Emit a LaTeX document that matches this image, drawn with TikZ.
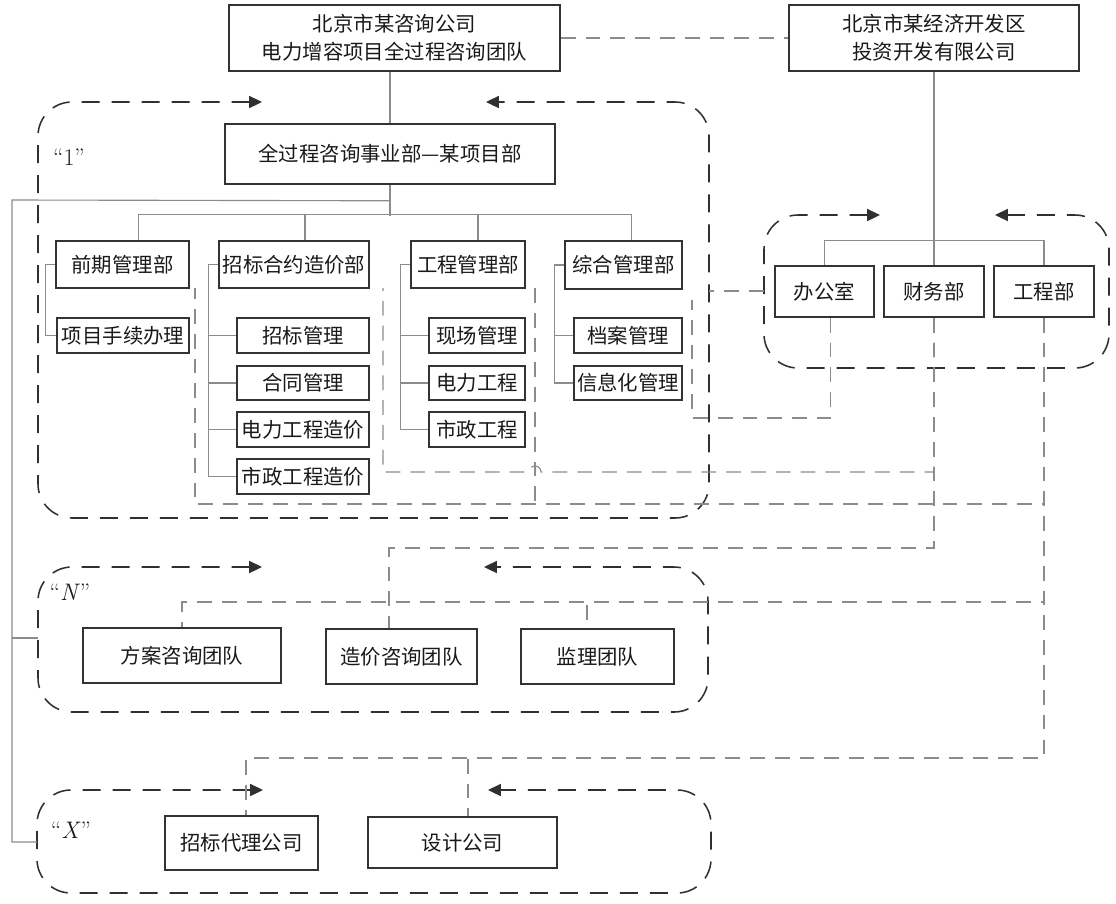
\documentclass[tikz,border=0pt]{standalone}
\usepackage{fontspec}
\newfontfamily\cjk{Noto Sans CJK SC}
\usetikzlibrary{arrows.meta}
\pgfdeclarelayer{edgelayer}
\pgfdeclarelayer{nodelayer}
\pgfsetlayers{edgelayer,nodelayer,main}
\definecolor{lineGray}{HTML}{8C8C8C}
\definecolor{frameGray}{HTML}{303030}
\tikzstyle{orgbox}=[draw=black!80, line width=1.1pt, fill=white, inner sep=0pt, align=center, text=black!90, font=\cjk\fontsize{14.5}{20}\selectfont]
\tikzstyle{orgline}=[draw=lineGray, line width=0.8pt]
\tikzstyle{relline}=[draw=lineGray, line width=0.8pt, dash pattern=on 0.37cm off 0.25cm]
\tikzstyle{teamframe}=[draw=frameGray, line width=1.1pt, dash pattern=on 0.45cm off 0.3cm, rounded corners=0.85cm, arrows={Triangle[length=0.32cm,width=0.3cm]-Triangle[length=0.32cm,width=0.3cm]}]
\tikzstyle{teamtag}=[font=\fontsize{17}{19}\selectfont, inner sep=0pt, text=black!90]

\begin{document}
\begin{tikzpicture}[x=0.025cm, y=-0.025cm]
	\useasboundingbox (0,0) rectangle (1116,903);
	\begin{pgfonlayer}{nodelayer}
		\node [style=orgbox, minimum width=8.275cm, minimum height=1.65cm] (0) at (394.5, 38) {北京市某咨询公司\\电力增容项目全过程咨询团队};
		\node [style=orgbox, minimum width=7.25cm, minimum height=1.65cm] (1) at (934, 38) {北京市某经济开发区\\投资开发有限公司};
		\node [style=orgbox, minimum width=8.25cm, minimum height=1.5cm] (2) at (390, 154) {全过程咨询事业部—某项目部};
		\node [style=orgbox, minimum width=3.325cm, minimum height=1.175cm] (3) at (122.5, 264.5) {前期管理部};
		\node [style=orgbox, minimum width=3.3cm, minimum height=0.875cm] (4) at (123, 335.5) {项目手续办理};
		\node [style=orgbox, minimum width=3.75cm, minimum height=1.175cm] (5) at (294, 264.5) {招标合约造价部};
		\node [style=orgbox, minimum width=3.3cm, minimum height=0.875cm] (6) at (303, 335.5) {招标管理};
		\node [style=orgbox, minimum width=3.3cm, minimum height=0.85cm] (7) at (303, 383) {合同管理};
		\node [style=orgbox, minimum width=3.3cm, minimum height=0.875cm] (8) at (303, 429.5) {电力工程造价};
		\node [style=orgbox, minimum width=3.3cm, minimum height=0.875cm] (9) at (303, 476.5) {市政工程造价};
		\node [style=orgbox, minimum width=2.85cm, minimum height=1.175cm] (10) at (468, 264.5) {工程管理部};
		\node [style=orgbox, minimum width=2.4cm, minimum height=0.875cm] (11) at (477, 335.5) {现场管理};
		\node [style=orgbox, minimum width=2.4cm, minimum height=0.85cm] (12) at (477, 383) {电力工程};
		\node [style=orgbox, minimum width=2.4cm, minimum height=0.875cm] (13) at (477, 429.5) {市政工程};
		\node [style=orgbox, minimum width=2.925cm, minimum height=1.2cm] (14) at (623.5, 265) {综合管理部};
		\node [style=orgbox, minimum width=2.7cm, minimum height=0.875cm] (15) at (628, 335.5) {档案管理};
		\node [style=orgbox, minimum width=2.7cm, minimum height=0.85cm] (16) at (628, 383) {信息化管理};
		\node [style=orgbox, minimum width=2.475cm, minimum height=1.275cm] (17) at (824.5, 291.5) {办公室};
		\node [style=orgbox, minimum width=2.5cm, minimum height=1.275cm] (18) at (934, 291.5) {财务部};
		\node [style=orgbox, minimum width=2.5cm, minimum height=1.275cm] (19) at (1044, 291.5) {工程部};
		\node [style=orgbox, minimum width=4.95cm, minimum height=1.375cm] (20) at (182, 655.5) {方案咨询团队};
		\node [style=orgbox, minimum width=3.775cm, minimum height=1.375cm] (21) at (401.5, 656.5) {造价咨询团队};
		\node [style=orgbox, minimum width=3.825cm, minimum height=1.375cm] (22) at (597.5, 656.5) {监理团队};
		\node [style=orgbox, minimum width=3.825cm, minimum height=1.35cm] (23) at (241.5, 843) {招标代理公司};
		\node [style=orgbox, minimum width=4.725cm, minimum height=1.275cm] (24) at (462.5, 842.5) {设计公司};
		\node [style=teamtag] (25) at (69, 157) {``1''};
		\node [style=teamtag] (26) at (70, 592) {``\textit{N}''};
		\node [style=teamtag] (27) at (71, 830) {``\textit{X}''};
	\end{pgfonlayer}
	\coordinate (s0) at (12, 200);
	\coordinate (n0) at (38, 638);
	\coordinate (x0) at (37, 842);
	\coordinate (a0) at (195, 288);
	\coordinate (a1) at (383, 288);
	\coordinate (a2) at (535, 288);
	\coordinate (a3) at (692, 300);
	\coordinate (d1) at (195, 504);
	\coordinate (d2) at (383, 472);
	\coordinate (c4) at (389, 548);
	\coordinate (c5) at (182, 602);
	\coordinate (c6) at (587, 602);
	\coordinate (c7) at (246, 758);
	\coordinate (c8) at (468, 758);
	\coordinate (c9) at (692, 418);
	\coordinate (e1) at (709, 291);
	\coordinate (e2) at (764, 291);
	\begin{pgfonlayer}{edgelayer}
		% team frames
		\draw [style=teamframe] (262, 102) -- (38, 102) -- (38, 518) -- (709, 518) -- (709, 102) -- (486, 102);
		\draw [style=teamframe] (880, 215) -- (764, 215) -- (764, 368) -- (1109, 368) -- (1109, 215) -- (995, 215);
		\draw [style=teamframe] (262, 567) -- (38, 567) -- (38, 712) -- (708, 712) -- (708, 567) -- (484, 567);
		\draw [style=teamframe] (263, 790) -- (37, 790) -- (37, 893) -- (711, 893) -- (711, 790) -- (488, 790);
		% organisation lines
		\draw [style=orgline] (0.south -| 2.north) -- (2.north);
		\draw [style=orgline] (1.south) -- (18.north);
		\draw [style=orgline] (17.north) -- ++(0, -25) -| (19.north);
		\draw [style=orgline] (2.south) -- ++(0, 31);
		\draw [style=orgline] ([xshift=0.39cm]3.north) -- ++(0, -26) -| ([xshift=0.21cm]14.north);
		\draw [style=orgline] ([xshift=0.275cm]5.north) -- ++(0, -26);
		\draw [style=orgline] ([xshift=0.25cm]10.north) -- ++(0, -26);
		\draw [style=orgline] (3.west) -- ++(-10, 0) |- (4.west);
		\draw [style=orgline] (5.west) -- ++(-10, 0) |- (6.west);
		\draw [style=orgline] (5.west) -- ++(-10, 0) |- (7.west);
		\draw [style=orgline] (5.west) -- ++(-10, 0) |- (8.west);
		\draw [style=orgline] (5.west) -- ++(-10, 0) |- (9.west);
		\draw [style=orgline] (10.west) -- ++(-10, 0) |- (11.west);
		\draw [style=orgline] (10.west) -- ++(-10, 0) |- (12.west);
		\draw [style=orgline] (10.west) -- ++(-10, 0) |- (13.west);
		\draw [style=orgline] (14.west) -- ++(-10, 0) |- (15.west);
		\draw [style=orgline] (14.west) -- ++(-10, 0) |- (16.west);
		\draw [style=orgline] ([yshift=-0.4cm]2.south) -- (s0) |- (x0);
		\draw [style=orgline] (s0 |- n0) -- (n0);
		% relation lines
		\draw [style=relline] (0.east) -- (1.west);
		\draw [style=relline] (e2) -- (e1);
		\draw [style=relline] ([xshift=0.16cm]17.south) |- (c9) -- (a3);
		\draw [style=relline] (18.south) |- ([xshift=0.15cm]a2 |- d2) arc [start angle=0, end angle=180, radius=0.15cm] -- (d2) -- (a1);
		\draw [style=relline] (18.south) |- (c4) -- (21.north -| c4);
		\draw [style=relline] (19.south) |- (d1) -- (a0);
		\draw [style=relline] (a2) -- (a2 |- d1);
		\draw [style=relline] (19.south) |- (c5) -- (20.north);
		\draw [style=relline] (19.south) |- (c6) -- (22.north -| c6);
		\draw [style=relline] (19.south) |- (c7) -- (23.north -| c7);
		\draw [style=relline] (19.south) |- (c8) -- (24.north -| c8);
	\end{pgfonlayer}
\end{tikzpicture}
\end{document}
